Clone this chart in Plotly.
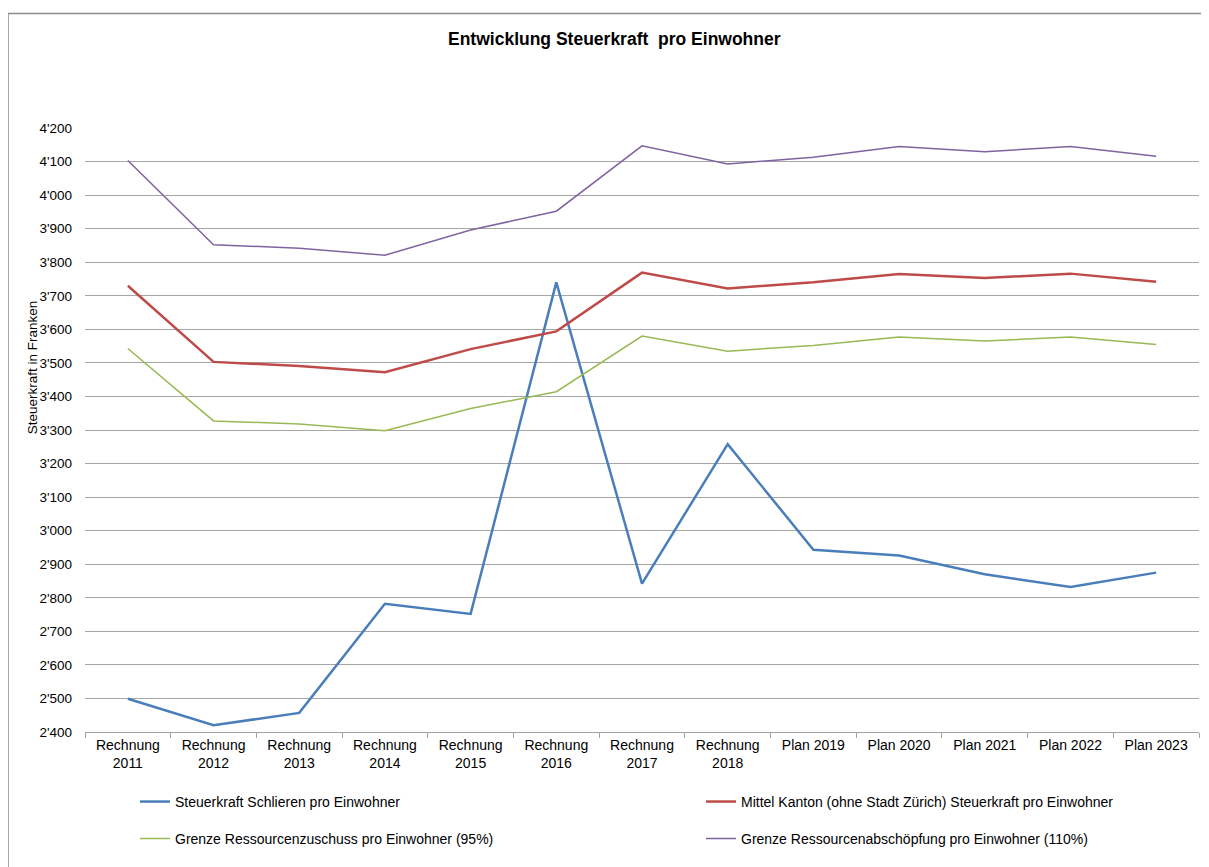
import plotly.graph_objects as go

categories = ["Rechnung<br>2011", "Rechnung<br>2012", "Rechnung<br>2013", "Rechnung<br>2014",
              "Rechnung<br>2015", "Rechnung<br>2016", "Rechnung<br>2017", "Rechnung<br>2018",
              "Plan 2019", "Plan 2020", "Plan 2021", "Plan 2022", "Plan 2023"]

schlieren = [2499, 2420, 2457, 2782, 2752, 3740, 2842, 3258, 2943, 2926, 2870, 2832, 2875]
kanton = [3730, 3503, 3491, 3472, 3541, 3594, 3769, 3722, 3740, 3765, 3753, 3766, 3742]
zuschuss = [3543, 3327, 3318, 3298, 3364, 3414, 3580, 3535, 3552, 3577, 3565, 3577, 3555]
abschoepfung = [4103, 3852, 3842, 3821, 3896, 3952, 4147, 4093, 4113, 4145, 4129, 4145, 4116]

y_ticks = list(range(2400, 4201, 100))
y_labels = [f"{v // 1000}'{v % 1000:03d}" for v in y_ticks]

names = ["Steuerkraft Schlieren pro Einwohner",
         "Mittel Kanton (ohne Stadt Zürich) Steuerkraft pro Einwohner",
         "Grenze Ressourcenzuschuss pro Einwohner (95%)",
         "Grenze Ressourcenabschöpfung pro Einwohner (110%)"]
colors = ["#4A7EBB", "#BE4B48", "#98B954", "#7F63A1"]
widths = [2.5, 2.5, 1.5, 1.5]
legends = ["legend", "legend2", "legend3", "legend4"]
series = [schlieren, kanton, zuschuss, abschoepfung]

fig = go.Figure()
for s, n, c, w, lg in zip(series, names, colors, widths, legends):
    fig.add_trace(go.Scatter(x=categories, y=s, name=n, mode="lines",
                             line=dict(color=c, width=w), legend=lg))

font = "Liberation Sans, Arial, sans-serif"
W, H = 1209, 867
OFF = 8  # page body margin
# plot area in screenshot pixels
SL, ST, SB, SR = 85, 127.5, 732, 1199
PL, PT, PB = SL - OFF, ST - OFF, SB - OFF
PW, PH = SR - SL, SB - ST


def px_x(x):
    return (x - SL) / PW


def px_y(y):
    return (SB - y) / PH


def leg(x, y):
    return dict(orientation="h", xanchor="left", yanchor="middle",
                x=px_x(x), y=px_y(y),
                font=dict(family=font, size=14, color="#000"),
                bgcolor="rgba(0,0,0,0)", borderwidth=0)


fig.update_layout(
    width=W, height=H,
    margin=dict(l=PL, r=W - PL - PW, t=PT, b=H - PB, autoexpand=False),
    paper_bgcolor="white", plot_bgcolor="white",
    font=dict(family=font, size=14, color="#000"),
    showlegend=True,
    legend=leg(135, 802),
    legend2=leg(701, 802),
    legend3=leg(135, 839),
    legend4=leg(701, 839),
    xaxis=dict(type="category", range=[-0.5, 12.5], tickson="boundaries",
               ticks="outside", ticklen=5, tickcolor="#A0A0A0",
               showline=True, linecolor="#A0A0A0", linewidth=1,
               showgrid=False, tickfont=dict(family=font, size=14, color="#000"),
               automargin=False),
    yaxis=dict(range=[2400, 4200], tickvals=y_ticks, ticktext=y_labels,
               showgrid=True, gridcolor="#A6A6A6", gridwidth=1,
               zeroline=False, showline=False, ticks="", ticklabelstandoff=12,
               tickfont=dict(family=font, size=13.5, color="#000"),
               automargin=False),
    annotations=[
        dict(text="<b>Entwicklung Steuerkraft  pro Einwohner</b>", xref="paper", yref="paper",
             x=px_x(614), y=px_y(38), xanchor="center", yanchor="middle",
             showarrow=False, font=dict(family=font, size=17.5, color="#000")),
        dict(text="Steuerkraft in Franken", xref="paper", yref="paper",
             x=px_x(32), y=px_y(367), xanchor="center", yanchor="middle",
             textangle=-90, showarrow=False, font=dict(family=font, size=13.5, color="#000")),
    ],
    shapes=[
        dict(type="rect", xref="paper", yref="paper",
             x0=px_x(8), x1=px_x(1230), y0=px_y(900), y1=px_y(13),
             line=dict(color="#8C8C8C", width=1.5), fillcolor="rgba(0,0,0,0)", layer="below"),
    ],
)

fig.write_html("out.html")
